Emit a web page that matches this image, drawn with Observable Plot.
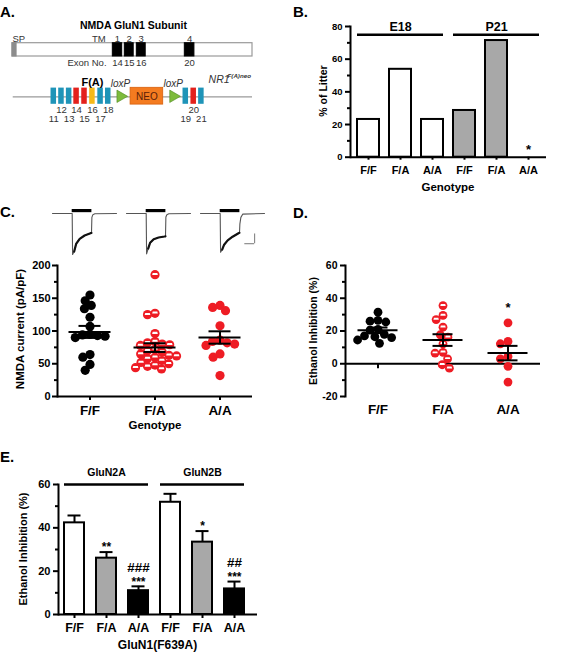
<!DOCTYPE html>
<html>
<head>
<meta charset="utf-8">
<script src="https://cdn.jsdelivr.net/npm/d3@7"></script>
<script src="https://cdn.jsdelivr.net/npm/@observablehq/plot@0.6"></script>
<style>
  body { margin: 0; background: #fff; }
  #fig { position: relative; width: 587px; height: 657px; overflow: hidden; background: #fff;
         font-family: "Liberation Sans", Arial, Helvetica, sans-serif; }
  .panel { position: absolute; }
  .panel svg { display: block; }
</style>
</head>
<body>
<div id="fig"></div>
<script>
// ---------- data ----------
const genotypes = ["F/F", "F/A", "A/A"];

// A. GluN1 protein and the targeted NR1 F(A)neo allele (schematic units, 0–100)
const signalPeptide = [0, 1.7];
const tmNames = ["1", "2", "3", "4"];
const tmStart = [41.8, 46.8, 51.8, 71.8];
const tmEnd = [45.7, 50.5, 55.5, 75.8];
const tmExons = ["14", "15", "16", "20"];
const exonNumbers = [11, 12, 13, 14, 15, 16, 17, 18, 19, 20, 21];
const exonPositions = [17.2, 20.4, 23.6, 26.7, 30.0, 33.3, 36.7, 39.9, 72.2, 75.5, 78.7];
const exonKinds = ["other", "other", "other", "tm", "tm", "mutant", "other", "other", "other", "tm", "other"];
const loxPSites = [45, 67];
const neoCassette = [49.2, 62.8];

// B. Genotype distribution of litters (% of litter)
const litterAge = ["E18", "E18", "E18", "P21", "P21", "P21"];
const litterGenotype = ["F/F", "F/A", "A/A", "F/F", "F/A", "A/A"];
const litterPercent = [23.1, 53.8, 23.1, 28.6, 71.4, 0];
const litterStars = ["", "", "", "", "", "*"];

// C. Example NMDA currents (s, pA) and current densities (pA/pF)
const traceTime = [0, 1.0, 1.02, 1.1, 1.2, 1.38, 1.63, 1.93, 1.98, 2.0, 2.05, 2.15, 3.25];
const traceFF = [0, 0, -2100, -1950, -1560, -1300, -1130, -1010, -1000, -200, -60, -15, 0];
const traceFA = [0, 0, -2070, -1800, -1500, -1320, -1230, -1180, -1170, -180, -60, -15, 0];
const traceAA = [0, 0, -1990, -1850, -1600, -1380, -1190, -1010, -990, -530, -200, -30, 0];
const agonistOn = 1.0, agonistOff = 2.0;
const scaleBarTime = 0.5, scaleBarCurrent = 500;

const currentFF = [155, 146, 139, 134, 121, 107, 95, 94, 93, 92, 90, 64, 60, 49, 40];
const currentFA = [186, 127, 125, 96, 84, 82, 80, 79, 78, 72, 70, 68, 65, 63, 62, 60, 58, 55, 52, 50, 48, 46, 44, 42];
const currentAA = [139, 136, 131, 108, 86, 84, 82, 80, 78, 65, 60, 32];

// D. Ethanol inhibition of NMDA currents in neurons (%)
const ethanolFF = [31.5, 26.5, 26, 25.5, 21, 20.5, 18, 17, 16.5, 16, 14.5, 12.5];
const ethanolFA = [35.5, 29.5, 27, 22.3, 17.7, 16.2, 12.2, 7, 6.5, 3, -0.6, -2.7];
const ethanolAA = [25, 13.6, 12.2, 4.5, 3, -1.6, -11.2];
const ethanolStars = ["", "", "*"];

// E. Ethanol inhibition of recombinant receptors (mean ± SEM, %)
const recSubunit = ["GluN2A", "GluN2A", "GluN2A", "GluN2B", "GluN2B", "GluN2B"];
const recGenotype = ["F/F", "F/A", "A/A", "F/F", "F/A", "A/A"];
const recMean = [42.3, 26.0, 11.0, 51.8, 33.4, 11.8];
const recSem = [3.4, 2.8, 2.0, 3.9, 5.1, 3.4];
const recStars = ["", "**", "***", "", "*", "***"];
const recHashes = ["", "", "###", "", "", "##"];

// ---------- styling ----------
const FONT = '"Liberation Sans", Arial, Helvetica, sans-serif';
const RED = "#ee1c24";
const GRAY = "#a8a8a8";
const exonColor = {other: "#1f94b8", tm: "#e3211c", mutant: "#f6b918"};
const baseStyle = (size) => ({fontFamily: FONT, fontSize: size + "px", color: "black",
  background: "transparent", overflow: "visible"});

const fig = document.getElementById("fig");
function place(node, left, top) {
  const div = document.createElement("div");
  div.className = "panel";
  div.style.left = left + "px";
  div.style.top = top + "px";
  div.appendChild(node);
  fig.appendChild(div);
}

function yAxis(major, minor, fontSize, tickPadding, facetAnchor) {
  const extra = facetAnchor ? {facetAnchor: "left"} : {};
  return [
    Plot.axisY(major, {tickSize: 5, tickPadding, fontSize, fontWeight: "bold", label: null,
      strokeWidth: 2, tickFormat: (d) => String(d), ...extra}),
    Plot.axisY(minor, {tickSize: 3, label: null, strokeWidth: 2, tickFormat: () => "", ...extra}),
    Plot.frame({anchor: "left", strokeWidth: 2, ...extra})
  ];
}

// half-open marker: a white band across the upper middle of a red dot
const openBand = {
  draw(context, size) {
    const r = Math.sqrt(size / Math.PI);
    const w = r * 0.62, top = -r * 0.38, bottom = r * 0.06;
    context.moveTo(-w, bottom);
    context.lineTo(-w * 0.8, top);
    context.lineTo(w * 0.8, top);
    context.lineTo(w, bottom);
    context.closePath();
  }
};

function summarize(points) {
  return genotypes.map((g) => {
    const v = points.filter((d) => d.genotype === g).map((d) => d.value);
    const m = d3.mean(v), s = d3.deviation(v) / Math.sqrt(v.length);
    return {genotype: g, mean: m, lo: m - s, hi: m + s, max: d3.max(v)};
  });
}

function scatterMarks(points, r, padding, meanInset, capInset) {
  const dodge = (opts) => Plot.dodgeX({anchor: "middle", padding}, {fx: "genotype", y: "value", r, ...opts});
  const stats = summarize(points);
  return [
    Plot.dot(points, dodge({fill: (d) => (d.genotype === "F/F" ? "black" : RED)})),
    Plot.dot(points, dodge({fill: (d) => (d.genotype === "F/A" ? "white" : "transparent"), symbol: openBand})),
    Plot.ruleY(stats, {fx: "genotype", y: "mean", insetLeft: meanInset, insetRight: meanInset, strokeWidth: 2}),
    Plot.ruleY(stats, {fx: "genotype", y: "hi", insetLeft: capInset, insetRight: capInset, strokeWidth: 2}),
    Plot.ruleY(stats, {fx: "genotype", y: "lo", insetLeft: capInset, insetRight: capInset, strokeWidth: 2}),
    Plot.ruleX(stats, {fx: "genotype", x: null, y1: "lo", y2: "hi", strokeWidth: 2})
  ];
}

// ---------- A: gene diagram ----------
const proteinRegions = [{kind: "signal", start: signalPeptide[0], end: signalPeptide[1]}]
  .concat(tmNames.map((n, i) => ({kind: "tm", name: n, exon: tmExons[i], start: tmStart[i], end: tmEnd[i]})));
const tms = proteinRegions.filter((d) => d.kind === "tm");
const exons = exonNumbers.map((n, i) => ({n, pos: exonPositions[i], kind: exonKinds[i]}));
const exonHalf = 1.15;
const ROW = {title: 25, tmLabel: 38, protTop: 42.7, protBottom: 56, exonLabel: 62, upper: 82,
  gene: 96.3, exonTop: 87.6, exonBottom: 103.8, numTop: 109.3, numBottom: 118.3};

const plotA = Plot.plot({
  width: 290, height: 150, marginLeft: 12, marginRight: 38, marginTop: 0, marginBottom: 0,
  style: baseStyle(9.5),
  x: {domain: [0, 100], axis: null},
  y: {domain: [150, 0], axis: null},
  marks: [
    Plot.text(["NMDA GluN1 Subunit"], {x: 50.4, y: ROW.title, fontSize: 10.5, fontWeight: "bold"}),
    Plot.rect([0], {x1: 0, x2: 100, y1: ROW.protTop, y2: ROW.protBottom, fill: "white", stroke: "#9a9a9a", strokeWidth: 1.2}),
    Plot.rect(proteinRegions, {x1: "start", x2: "end", y1: ROW.protTop, y2: ROW.protBottom,
      fill: (d) => (d.kind === "signal" ? "#8c8c8c" : "black"), stroke: (d) => (d.kind === "signal" ? "#8c8c8c" : "black")}),
    Plot.text(["SP"], {x: 0, y: ROW.tmLabel, textAnchor: "start", fill: "#333"}),
    Plot.text(["TM"], {x: 38.8, y: ROW.tmLabel, textAnchor: "end", fill: "#333"}),
    Plot.text(tms, {x: (d) => (d.start + d.end) / 2, y: ROW.tmLabel, text: "name", fill: "#333"}),
    Plot.text(["Exon No."], {x: 22.9, y: ROW.exonLabel, textAnchor: "start", fill: "#333"}),
    Plot.text(tms, {x: (d) => (d.start + d.end) / 2, y: ROW.exonLabel, text: "exon", fill: "#333"}),
    Plot.ruleY([ROW.gene], {x1: 0.3, x2: 100, stroke: "#9a9a9a", strokeWidth: 1.2}),
    Plot.rect(exons, {x1: (d) => d.pos - exonHalf, x2: (d) => d.pos + exonHalf, y1: ROW.exonTop, y2: ROW.exonBottom,
      fill: (d) => exonColor[d.kind]}),
    Plot.text(exons, {x: "pos", y: (d) => (d.n % 2 === 0 ? ROW.numTop : ROW.numBottom), text: (d) => String(d.n), fill: "#333"}),
    Plot.rect([neoCassette], {x1: (d) => d[0], x2: (d) => d[1], y1: ROW.exonTop - 0.3, y2: ROW.exonBottom + 0.3,
      fill: "#f47b20", stroke: "#d8600c", strokeWidth: 0.8}),
    Plot.text([neoCassette], {x: (d) => (d[0] + d[1]) / 2, y: ROW.gene - 0.3, text: () => "NEO", fill: "#5a2008", fontSize: 10}),
    Plot.dot(loxPSites, {x: (d) => d, y: ROW.gene - 0.5, symbol: "triangle", rotate: 90, r: 4.6, fill: "#7dbb3c", stroke: "#4f8a22", strokeWidth: 0.6}),
    Plot.text(loxPSites, {x: (d) => d, y: ROW.upper + 1.5, text: () => "loxP", fontStyle: "italic", fill: "#333", fontSize: 10}),
    Plot.text(exons.filter((d) => d.kind === "mutant"), {x: "pos", y: ROW.upper, text: () => "F(A)", fontWeight: "bold", fontSize: 11}),
    Plot.text(["NR1"], {x: 81.7, y: 79, textAnchor: "start", fontStyle: "italic", fontSize: 10.5, fill: "#333"}),
    Plot.text(["F(A)neo"], {x: 89.6, y: 76, textAnchor: "start", fontStyle: "italic", fontWeight: "bold", fontSize: 6.2, fill: "#333"})
  ]
});
place(plotA, 0, 0);

// ---------- B: litter genotypes ----------
const litterRows = litterPercent.map((p, i) => ({age: litterAge[i], genotype: litterGenotype[i],
  key: litterAge[i] + " " + litterGenotype[i], percent: p, star: litterStars[i]}));
const litterGroups = d3.groups(litterRows, (d) => d.age).map(([age, rows]) => ({age,
  first: rows[0].key, middle: rows[1].key, last: rows[rows.length - 1].key}));
const bracketLevel = 75;

const plotB = Plot.plot({
  width: 297, height: 200, marginLeft: 60, marginRight: 41, marginTop: 26, marginBottom: 43.3,
  style: baseStyle(9.5),
  x: {type: "band", domain: litterRows.map((d) => d.key), paddingInner: 0.315, paddingOuter: 0.155, align: 0.5, label: null},
  y: {domain: [0, 80], label: null},
  marks: [
    Plot.barY(litterRows.filter((d) => d.percent > 0), {x: "key", y: "percent",
      fill: (d) => (d.age === "E18" ? "white" : GRAY), stroke: "black", strokeWidth: 2}),
    Plot.ruleY([0], {strokeWidth: 2}),
    ...yAxis(d3.range(0, 81, 20), d3.range(10, 80, 20), 9.5, 3, false),
    Plot.axisX({tickSize: 3, tickPadding: 6, tickFormat: (k) => k.split(" ")[1], fontSize: 11,
      fontWeight: "bold", label: null, strokeWidth: 2}),
    Plot.ruleY(litterGroups, {x1: "first", x2: "last", y: bracketLevel, strokeWidth: 2.5}),
    Plot.text(litterGroups, {x: "middle", y: bracketLevel, text: "age", dy: -8, fontSize: 12.5, fontWeight: "bold"}),
    Plot.text(litterRows, {x: "key", y: "percent", text: "star", dy: -7, fontSize: 13, fontWeight: "bold"})
  ]
});
place(plotB, 290, 0);

// ---------- C: traces ----------
const traceCurrents = [traceFF, traceFA, traceAA];
const traceRows = genotypes.flatMap((g, gi) => traceTime.map((t, i) => ({genotype: g, t, current: traceCurrents[gi][i]})));
const agonistLevel = 150;
const scaleBar = [{genotype: "A/A", t1: 2.75, t0: 2.75 - scaleBarTime, i0: -1550, i1: -1550 + scaleBarCurrent}];

const plotTraces = Plot.plot({
  width: 290, height: 65, marginLeft: 51, marginRight: 25, marginTop: 10.2, marginBottom: 4.1,
  style: baseStyle(10),
  fx: {domain: genotypes, paddingInner: 0.133, paddingOuter: 0, axis: null, label: null},
  x: {domain: [0, 3.25], axis: null},
  y: {domain: [-2200, 400], axis: null},
  marks: [
    Plot.line(traceRows, {fx: "genotype", x: "t", y: "current", stroke: "#555", strokeWidth: 1.1}),
    Plot.line(traceRows.filter((d) => d.t > 1.05 && d.t < 1.99), {fx: "genotype", x: "t", y: "current", stroke: "#111", strokeWidth: 2.2}),
    Plot.ruleY(genotypes, {fx: (d) => d, x1: agonistOn, x2: agonistOff, y: agonistLevel, strokeWidth: 3.2}),
    Plot.ruleY(scaleBar, {fx: "genotype", x1: "t0", x2: "t1", y: "i0", stroke: "#777", strokeWidth: 1}),
    Plot.ruleX(scaleBar, {fx: "genotype", x: "t1", y1: "i0", y2: "i1", stroke: "#777", strokeWidth: 1})
  ]
});
place(plotTraces, 0, 195);

// ---------- C: current density scatter ----------
const currentPoints = [
  ...currentFF.map((v) => ({genotype: "F/F", value: v})),
  ...currentFA.map((v) => ({genotype: "F/A", value: v})),
  ...currentAA.map((v) => ({genotype: "A/A", value: v}))
];
const plotC = Plot.plot({
  width: 290, height: 225, marginLeft: 57, marginRight: 38, marginTop: 10, marginBottom: 84,
  style: baseStyle(11),
  fx: {domain: genotypes, paddingInner: 0, paddingOuter: 0, label: null},
  y: {domain: [0, 200], label: null},
  marks: [
    Plot.ruleY([0], {strokeWidth: 2}),
    ...yAxis([0, 50, 100, 150, 200], [25, 75, 125, 175], 11, 2, true),
    Plot.axisFx({anchor: "bottom", tickSize: 4, tickPadding: 5, fontSize: 13.5, fontWeight: "bold", label: null, strokeWidth: 2}),
    ...scatterMarks(currentPoints, 4.6, -1.6, 11.5, 21.5)
  ]
});
place(plotC, 0, 255);

// ---------- D: ethanol inhibition scatter ----------
const ethanolPoints = [
  ...ethanolFF.map((v) => ({genotype: "F/F", value: v})),
  ...ethanolFA.map((v) => ({genotype: "F/A", value: v})),
  ...ethanolAA.map((v) => ({genotype: "A/A", value: v}))
];
const ethanolNotes = summarize(ethanolPoints).map((s, i) => ({genotype: s.genotype, max: s.max, label: ethanolStars[i]}));
const plotD = Plot.plot({
  width: 297, height: 200, marginLeft: 55, marginRight: 47, marginTop: 15, marginBottom: 54,
  style: baseStyle(10.5),
  fx: {domain: genotypes, paddingInner: 0, paddingOuter: 0, label: null},
  y: {domain: [-20, 60], label: null},
  marks: [
    Plot.ruleY([0], {strokeWidth: 2}),
    Plot.ruleX(genotypes, {fx: (d) => d, x: null, y1: 0, y2: -3, strokeWidth: 2}),
    ...yAxis([-20, 0, 20, 40, 60], [-10, 10, 30, 50], 10.5, 3, true),
    Plot.axisFx({anchor: "bottom", tickSize: 0, tickPadding: 8, fontSize: 13.5, fontWeight: "bold", label: null}),
    ...scatterMarks(ethanolPoints, 4.4, -0.8, 12.5, 22.5),
    Plot.text(ethanolNotes, {fx: "genotype", y: (d) => d.max + 9, text: "label", fontSize: 13, fontWeight: "bold"})
  ]
});
place(plotD, 290, 250);

// ---------- E: recombinant receptors ----------
const recRows = recMean.map((m, i) => ({subunit: recSubunit[i], genotype: recGenotype[i],
  key: recSubunit[i] + " " + recGenotype[i], mean: m, sem: recSem[i], stars: recStars[i], hashes: recHashes[i]}));
const recGroups = d3.groups(recRows, (d) => d.subunit).map(([subunit, rows]) => ({subunit,
  first: rows[0].key, middle: rows[1].key, last: rows[rows.length - 1].key}));
const recFill = {"F/F": "white", "F/A": GRAY, "A/A": "black"};
const recBracket = 60;

const plotE = Plot.plot({
  width: 290, height: 192, marginLeft: 58, marginRight: 33, marginTop: 19, marginBottom: 43,
  style: baseStyle(11),
  x: {type: "band", domain: recRows.map((d) => d.key), paddingInner: 0.362, paddingOuter: 0.2, align: 0.3, label: null},
  y: {domain: [0, 60], label: null},
  marks: [
    Plot.ruleX(recRows, {x: "key", y1: "mean", y2: (d) => d.mean + d.sem, strokeWidth: 2}),
    Plot.tickY(recRows, {x: "key", y: (d) => d.mean + d.sem, strokeWidth: 2, insetLeft: 3.5, insetRight: 3.5}),
    Plot.barY(recRows, {x: "key", y: "mean", fill: (d) => recFill[d.genotype], stroke: "black", strokeWidth: 2}),
    Plot.ruleY([0], {strokeWidth: 2}),
    ...yAxis([0, 20, 40, 60], [10, 30, 50], 11, 3, false),
    Plot.axisX({tickSize: 4, tickPadding: 4.5, tickFormat: (k) => k.split(" ")[1], fontSize: 12.5,
      fontWeight: "bold", label: null, strokeWidth: 2}),
    Plot.ruleY(recGroups, {x1: "first", x2: "last", y: recBracket, strokeWidth: 2.5}),
    Plot.text(recGroups, {x: "middle", y: recBracket, text: "subunit", dy: -12, fontSize: 10.5, fontWeight: "bold"}),
    Plot.text(recRows, {x: "key", y: (d) => d.mean + d.sem, text: "stars", dy: -4.5, fontSize: 12, fontWeight: "bold"}),
    Plot.text(recRows, {x: "key", y: (d) => d.mean + d.sem, text: "hashes", dy: -19, fontSize: 13.5, fontWeight: "bold"})
  ]
});
place(plotE, 0, 465);

// ---------- panel letters and axis titles ----------
const overlay = d3.select(fig).append("svg")
  .attr("width", 587).attr("height", 657)
  .style("position", "absolute").style("left", 0).style("top", 0)
  .style("pointer-events", "none")
  .style("font-family", FONT);

function title(text, x, y, size, rotate = 0, weight = "bold") {
  overlay.append("text")
    .attr("transform", `translate(${x},${y}) rotate(${rotate})`)
    .attr("text-anchor", "middle").attr("dominant-baseline", "central")
    .attr("font-size", size).attr("font-weight", weight).text(text);
}
function letter(text, x, y) {
  overlay.append("text").attr("x", x).attr("y", y)
    .attr("font-size", 15).attr("font-weight", "bold").text(text);
}

letter("A.", 0, 17);
letter("B.", 293, 17);
letter("C.", 0, 217);
letter("D.", 293, 218);
letter("E.", 0, 462);

title("% of Litter", 323, 91, 10.5, -90);
title("Genotype", 448, 187, 11.5);
title("NMDA current (pA/pF)", 20, 329, 11.5, -90);
title("Genotype", 155, 425, 11.5);
title("Ethanol Inhibition (%)", 313, 331, 10.5, -90);
title("Ethanol Inhibition (%)", 23, 549, 11, -90);
title("GluN1(F639A)", 157.5, 645, 12);
</script>
</body>
</html>
